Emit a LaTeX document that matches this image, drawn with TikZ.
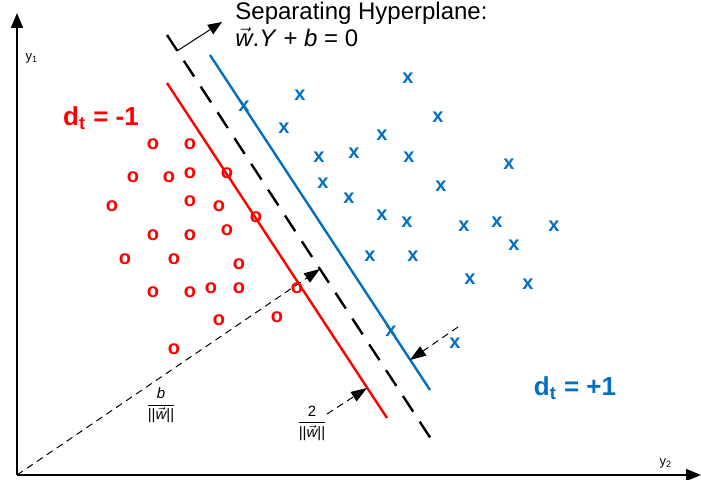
\documentclass[tikz,border=0pt]{standalone}
\usepackage{amsmath}
\usepackage{fontspec}
\setmainfont{Liberation Sans}
\usetikzlibrary{arrows.meta}
\definecolor{classred}{RGB}{255,0,0}
\definecolor{classblue}{RGB}{0,112,192}

\begin{document}
\begin{tikzpicture}[x=0.5pt, y=-0.5pt,
  axis/.style={line width=0.7pt, -{Triangle[length=7.5pt,width=6pt]}},
  hyper/.style={line width=1.2pt, dash pattern=on 9.4pt off 6pt},
  margin/.style={line width=1.2pt},
  guide/.style={line width=0.5pt, dash pattern=on 3.5pt off 2.5pt, -{Triangle[length=8pt,width=5.5pt]}},
  redpt/.style={font=\fontsize{10}{10}\selectfont\bfseries, text=classred, inner sep=0pt},
  bluept/.style={font=\fontsize{10}{10}\selectfont\bfseries, text=classblue, inner sep=0pt},
  dlbl/.style={font=\fontsize{13}{13}\selectfont\bfseries, inner sep=0pt},
  axlbl/.style={font=\fontsize{6.5}{6.5}\selectfont, inner sep=0pt},
  frac/.style={font=\fontsize{7.5}{8}\selectfont, inner sep=0pt},
]
\useasboundingbox (0,0) rectangle (701,480);
% === Axes ===
\coordinate (O) at (17,475);
\coordinate (Ytop) at (17,13);
\coordinate (Xend) at (701,475);
\draw[axis] (O) -- (Ytop);
\draw[axis] (O) -- (Xend);
\node[axlbl] (y1lbl) at (32,58) {y\textsubscript{1}};
\node[axlbl] (y2lbl) at (666,463) {y\textsubscript{2}};
% === Hyperplane and margins ===
\coordinate (H1) at (167,35);
\coordinate (H2) at (433,442);
\coordinate (Htop) at (177,51);
\coordinate (R1) at (167,83);
\coordinate (R2) at (387,418);
\coordinate (B1) at (210,55);
\coordinate (B2) at (430,390);
\draw[hyper] (H1) -- (H2);
\draw[margin, classred] (R1) -- (R2);
\draw[margin, classblue] (B1) -- (B2);
\node[anchor=north west, align=left, inner sep=0pt, font=\fontsize{12}{13.5}\selectfont] (sep) at (235,2)
  {Separating Hyperplane:\\$\vec{\textit{w}}$.\textit{Y} + \textit{b} = 0};
\coordinate (septip) at (222,22);
\draw[line width=0.5pt, -{Triangle[length=7pt,width=5.5pt]}] (Htop) -- (septip);
% === Distances ===
\coordinate (Pfoot) at (320,269);
\draw[guide] (O) -- (Pfoot);
\coordinate (Mstart) at (327,414);
\coordinate (Mred) at (367,388);
\draw[guide] (Mstart) -- (Mred);
\coordinate (Nstart) at (458,327);
\coordinate (Nblue) at (410,360);
\draw[guide] (Nstart) -- (Nblue);
\node[frac] (bfrac) at (161,405) {$\dfrac{\textit{b}}{\text{||}\vec{\textit{w}}\text{||}}$};
\node[frac] (twofrac) at (312,423) {$\dfrac{\text{2}}{\text{||}\vec{\textit{w}}\text{||}}$};
% === Class samples ===
\foreach \px/\py [count=\i] in {153/144,190/144,133/177,169/177,190/173,227/173,112/206,190/201,219/206,256/217,153/235,190/235,227/230,125/259,174/259,239/264,153/292,190/292,211/288,239/288,297/288,219/320,277/317,174/349}
  \node[redpt] (o\i) at (\px,\py) {o};
\foreach \px/\py [count=\i] in {408/78,300/95,244/106,438/117,284/128,382/135,319/157,354/153,409/157,509/164,323/183,441/186,349/198,382/215,407/222,464/226,497/222,554/226,514/245,370/256,413/256,470/279,528/284,391/331,455/343}
  \node[bluept] (x\i) at (\px,\py) {x};
\node[dlbl, text=classred] (dneg) at (101,118) {d\textsubscript{t} = -1};
\node[dlbl, text=classblue] (dpos) at (575,388) {d\textsubscript{t} = +1};
\end{tikzpicture}
\end{document}
